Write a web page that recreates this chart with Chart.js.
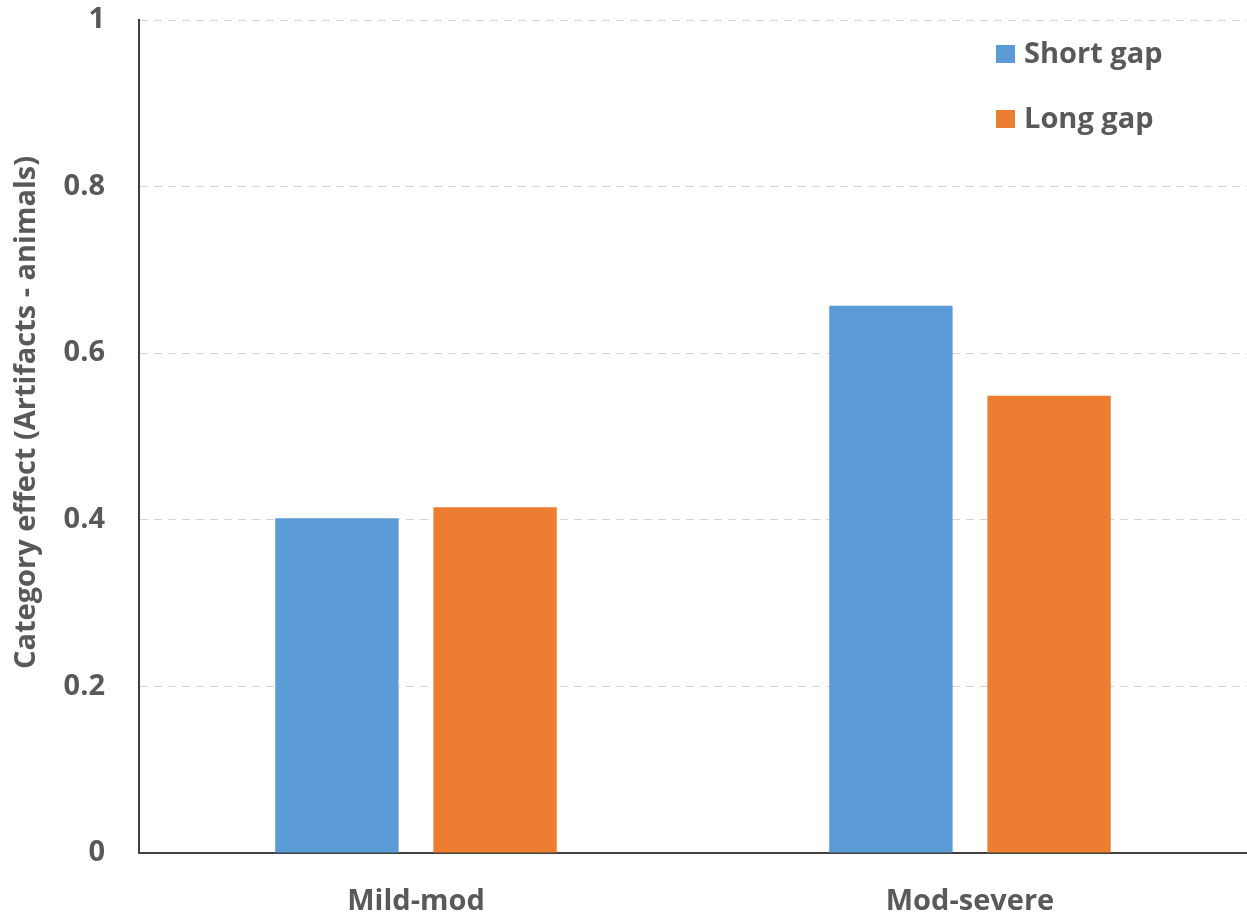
<!DOCTYPE html>
<html>
<head>
<meta charset="utf-8">
<style>
  html, body { margin: 0; padding: 0; background: #ffffff; }
  #wrap { width: 1247px; height: 916px; position: relative; }
</style>
<script src="https://cdn.jsdelivr.net/npm/chart.js@4/dist/chart.umd.min.js"></script>
</head>
<body>
<div id="wrap"><canvas id="chart" width="1247" height="916"></canvas></div>
<script>
// Severity groups and the two gap conditions
const categories = ['Mild-mod', 'Mod-severe'];
const seriesNames = ['Short gap', 'Long gap'];
const shortGap = [0.402, 0.657];
const longGap = [0.415, 0.549];
const yTicks = [0, 0.2, 0.4, 0.6, 0.8, 1];
const yTickLabels = ['0', '0.2', '0.4', '0.6', '0.8', '1'];
const yTitle = 'Category effect (Artifacts - animals)';

const FONT = '"Open Sans"';
const TEXT = '#595959';

// Vertical legend drawn inside the plot's upper-right corner
const cornerLegend = {
  id: 'cornerLegend',
  afterDraw(chart) {
    const ctx = chart.ctx;
    const area = chart.chartArea;
    const x0 = area.right - 251;
    ctx.save();
    ctx.font = 'bold 29px ' + FONT;
    ctx.textBaseline = 'middle';
    chart.data.datasets.forEach((ds, i) => {
      const cy = area.top + 34 + i * 65;
      ctx.fillStyle = ds.backgroundColor;
      ctx.fillRect(x0, cy - 9, 19, 18);
      ctx.fillStyle = TEXT;
      ctx.fillText(ds.label, x0 + 28, cy + 1);
    });
    ctx.restore();
  }
};

// Rotated value-axis title, set a little above the plot's middle
const sideTitle = {
  id: 'sideTitle',
  afterDraw(chart) {
    const ctx = chart.ctx;
    const area = chart.chartArea;
    ctx.save();
    ctx.translate(27, (area.top + area.bottom) / 2 - 24);
    ctx.rotate(-Math.PI / 2);
    ctx.font = 'bold 29px ' + FONT;
    ctx.fillStyle = TEXT;
    ctx.textAlign = 'center';
    ctx.textBaseline = 'middle';
    ctx.fillText(yTitle, 0, 0);
    ctx.restore();
  }
};

new Chart(document.getElementById('chart'), {
  type: 'bar',
  data: {
    labels: categories,
    datasets: [
      { label: seriesNames[0], data: shortGap, backgroundColor: '#5B9BD5' },
      { label: seriesNames[1], data: longGap, backgroundColor: '#ED7D31' }
    ]
  },
  options: {
    responsive: false,
    animation: false,
    devicePixelRatio: 1,
    categoryPercentage: 0.571,
    barPercentage: 0.78,
    layout: { padding: { top: 20, right: 0, left: 0, bottom: 0 } },
    plugins: {
      legend: { display: false },
      tooltip: { enabled: false }
    },
    scales: {
      x: {
        grid: { display: false },
        border: { display: true, color: '#404040', width: 2 },
        ticks: { color: TEXT, font: { family: FONT, size: 29, weight: 'bold' }, padding: 23 },
        afterFit(scale) { scale.height = 63; }
      },
      y: {
        min: 0,
        max: 1,
        afterBuildTicks(scale) { scale.ticks = yTicks.map(v => ({ value: v })); },
        grid: { color: '#d4d4d4', lineWidth: 1, drawTicks: false },
        border: { display: true, color: '#404040', width: 2, dash: [8, 6] },
        ticks: {
          color: TEXT,
          font: { family: FONT, size: 29, weight: 'bold' },
          padding: 34,
          callback(value, index) { return yTickLabels[index]; }
        },
        afterFit(scale) {
          scale.width = 139;
          scale.paddingTop = 0;
          scale.paddingBottom = 0;
        }
      }
    }
  },
  plugins: [cornerLegend, sideTitle]
});
</script>
</body>
</html>
